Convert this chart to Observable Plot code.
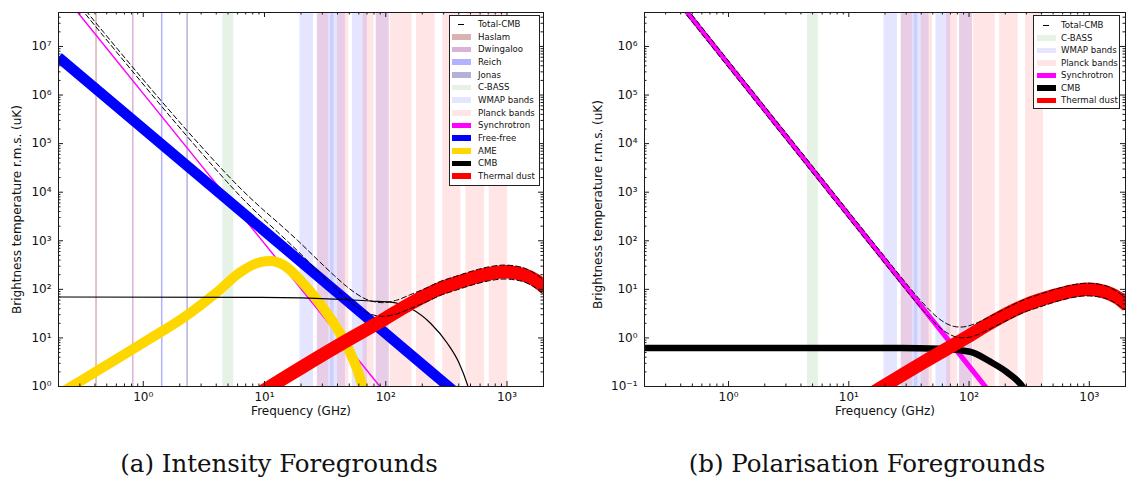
<!DOCTYPE html>
<html>
<head>
<meta charset="utf-8">
<script src="https://cdn.jsdelivr.net/npm/d3@7"></script>
<script src="https://cdn.jsdelivr.net/npm/@observablehq/plot@0.6"></script>
<style>
  html, body { margin: 0; padding: 0; background: #fff; }
  #wrap { position: relative; width: 1129px; height: 480px; overflow: hidden; font-family: "DejaVu Sans", sans-serif; }
  .panel { position: absolute; top: 0; }
  .legend { position: absolute; box-sizing: border-box; border: 1px solid #222; background: #fff; }
  .lrow { position: absolute; left: 0; right: 0; height: 12px; }
  .sw { position: absolute; top: 3.5px; height: 5.5px; }
  .dash { position: absolute; top: 6px; height: 1px; background: #000; }
  .lt { position: absolute; top: 0; line-height: 12px; font-size: 8.6px; color: #111; white-space: nowrap; }
  .caption { position: absolute; top: 449px; font-family: "DejaVu Serif", serif; font-size: 24.5px; color: #111; white-space: nowrap; transform: translateX(-50%); }
</style>
</head>
<body>
<div id="wrap"></div>
<script>
// ---------- axes ----------
const freqMajor = [1, 10, 100, 1000];
const freqMinor = [0.2,0.3,0.4,0.5,0.6,0.7,0.8,0.9,2,3,4,5,6,7,8,9,20,30,40,50,60,70,80,90,200,300,400,500,600,700,800,900,2000];
const intensityMajor = [1,10,100,1e3,1e4,1e5,1e6,1e7];
const polMajor = [0.1,1,10,100,1e3,1e4,1e5,1e6];

// ---------- bands (GHz) ----------
const surveyNames = ["Haslam","Dwingaloo","Reich","Jonas"];
const surveyFreqs = [0.408, 0.82, 1.42, 2.3];
const cbassBand = [[4.53, 5.58]];
const wmapBands = [[19.6,25.4],[27.3,37.5],[35.0,46.5],[53.0,70.5],[83.4,107]];
const planckBands = [[27.3,34.0],[40.0,49.5],[65.0,80.0],[83.4,107],[109,165],[179.5,256],[295,416],[459,655],[713,1011]];
const planckPolBands = [[27.3,34.0],[40.0,49.5],[65.0,80.0],[83.4,107],[109,165],[179.5,256],[295,416]];

// ---------- intensity foregrounds [GHz, uK] ----------
const syncI = [[0.2,1.55e8],[1,1.07e6],[10,873],[100,0.71]];
const freefreeI = [[0.2,6.0e6],[1,2.02e5],[10,1580],[100,12.3],[1000,0.096]];
const ameI = [[0.198,0.68],[0.259,1.02],[1.14,9.7],[2.15,26.2],[4.06,88],[6.33,226],[9.26,364],[11.2,381],[14.5,311],[19.8,153],[27.3,59.4],[37.4,19.8],[48.3,6.53],[58.4,2.17],[64.3,0.99],[67.1,0.67]];
const cmbI = [[0.19,69.5],[9.45,68.5],[42.5,62.4],[75.2,57.5],[110,54.8],[161,40.2],[235,19.8],[323,7.67],[404,2.98],[473,1.07],[501,0.67]];
const dustI = [[7.56,0.55],[11.2,1.0],[19.8,2.39],[42.5,7.43],[91,22],[161,51.5],[285,105],[504,168],[738,214],[983,229],[1304,208],[1729,153],[2079,105]];
const totalFreqI = [0.189,0.2835,0.4725,0.945,1.89,2.835,4.725,6.615,9.45,13.2,18.9,28.35,37.8,47.25,56.7,66.15,75.6,94.5,122.9,160.7,207.9,283.5,378,519.8,708.8,945,1323,2079];
const totalLoI = [2.661e8,7.67e7,1.609e7,1.970e6,2.503e5,7.70e4,1.811e4,7330,3037,1414,607,219.9,108.7,65.0,45.2,35.3,30.6,27.9,31.1,40.5,52.8,75.5,95.6,123.4,149.8,163,147,75.2];
const totalHiI = [3.163e8,9.17e7,1.944e7,2.440e6,3.231e5,1.028e5,2.551e4,10760,4665,2252,997,374.2,190,116.3,82.6,65.5,57.5,53.2,59.8,78.3,102.4,146.5,185.4,239.3,290.5,316,285,145.9];

// ---------- polarisation foregrounds [GHz, uK] ----------
const syncP = [[0.2,6.38e7],[1,4.30e5],[10,336],[100,0.262],[300,0.00865]];
const cmbP = [[0.19,0.62],[26.6,0.62],[57.3,0.60],[102,0.52],[150,0.324],[205,0.20],[265,0.116],[292,0.085]];
const dustP = [[11.2,0.0437],[19.8,0.104],[42.5,0.324],[91,0.962],[161,2.25],[285,4.57],[504,7.35],[738,9.33],[983,10.0],[1304,9.08],[1729,6.68],[2079,4.57]];
const totalFreqP = [0.19,0.477,0.953,1.906,4.77,9.53,19.1,28.6,38.1,47.7,57.2,66.7,76.2,85.8,95.3,114.4,143,190.6,286,381,524,715,953,1334,2097];
const totalLoP = [6.31e7,3.66e6,4.25e5,4.93e4,2860,332,38.6,11.1,4.68,2.51,1.63,1.239,1.064,1.006,1.013,1.135,1.457,2.07,3.37,4.28,5.54,6.74,7.34,6.62,3.39];
const totalHiP = [8.71e7,5.05e6,5.86e5,6.80e4,3950,458,53.3,15.4,6.55,3.59,2.41,1.91,1.71,1.673,1.729,2.0,2.62,3.76,6.12,7.80,10.09,12.28,13.37,12.05,6.16];

// ---------- legend entries ----------
const legendI = ["Total-CMB","Haslam","Dwingaloo","Reich","Jonas","C-BASS","WMAP bands","Planck bands","Synchrotron","Free-free","AME","CMB","Thermal dust"];
const legendP = ["Total-CMB","C-BASS","WMAP bands","Planck bands","Synchrotron","CMB","Thermal dust"];

// ---------- styles ----------
const colors = {
  "Haslam": "#d9b2b2", "Dwingaloo": "#d9b2d9", "Reich": "#b2b2ff", "Jonas": "#b2b2d9",
  "C-BASS": "#e5f2e5", "WMAP bands": "#e5e5ff", "Planck bands": "#ffe5e5",
  "Synchrotron": "#ff00ff", "Free-free": "#0000ff", "AME": "#ffd700", "CMB": "#000000", "Thermal dust": "#ff0000"
};
const SUP = {"-":"⁻","0":"⁰","1":"¹","2":"²","3":"³","4":"⁴","5":"⁵","6":"⁶","7":"⁷","8":"⁸","9":"⁹"};
const fmtPow = v => "10" + String(Math.round(Math.log10(v))).split("").map(c => SUP[c]).join("");
const fx = d => d[0], fy = d => d[1];

function curve(data, stroke, strokeWidth) {
  return Plot.line(data, {x: fx, y: fy, stroke, strokeWidth, curve: "monotone-x", clip: true, strokeLinejoin: "round", strokeLinecap: "butt"});
}
function totals(freqs, lo, hi) {
  const o = {stroke: "#000", strokeWidth: 1, strokeDasharray: "5,3", curve: "monotone-x", clip: true};
  return [
    Plot.line(freqs, {...o, x: d => d, y: (d, i) => lo[i]}),
    Plot.line(freqs, {...o, x: d => d, y: (d, i) => hi[i]})
  ];
}
function band(data, fill) {
  return Plot.rect(data, {x1: fx, x2: fy, fill, fillOpacity: 0.1});
}

function panel(o) {
  const fw = o.width - o.ml - o.mr, fh = o.height - o.mt - o.mb;
  const k = "#1a1a1a";
  const yMinor = [];
  for (const m of o.yMajor) for (let j = 2; j <= 9; j++) { const v = m * j; if (v <= o.yDomain[1]) yMinor.push(v); }
  return Plot.plot({
    width: o.width, height: o.height,
    marginLeft: o.ml, marginRight: o.mr, marginTop: o.mt, marginBottom: o.mb,
    x: {type: "log", domain: o.xDomain},
    y: {type: "log", domain: o.yDomain},
    style: {fontFamily: "DejaVu Sans", fontSize: "12px", background: "transparent", color: "#111"},
    marks: [
      ...o.marks,
      Plot.frame({stroke: k, strokeWidth: 1}),
      Plot.tickX(freqMajor, {x: d => d, insetTop: fh - 5, stroke: k}),
      Plot.tickX(freqMajor, {x: d => d, insetBottom: fh - 5, stroke: k}),
      Plot.tickX(freqMinor, {x: d => d, insetTop: fh - 2.5, stroke: k}),
      Plot.tickX(freqMinor, {x: d => d, insetBottom: fh - 2.5, stroke: k}),
      Plot.tickY(o.yMajor, {y: d => d, insetRight: fw - 5, stroke: k}),
      Plot.tickY(o.yMajor, {y: d => d, insetLeft: fw - 5, stroke: k}),
      Plot.tickY(yMinor, {y: d => d, insetRight: fw - 2.5, stroke: k}),
      Plot.tickY(yMinor, {y: d => d, insetLeft: fw - 2.5, stroke: k}),
      Plot.axisX(freqMajor, {anchor: "bottom", tickSize: 0, tickPadding: 6, tickFormat: fmtPow, fontSize: 12, label: null}),
      Plot.axisY(o.yMajor, {anchor: "left", tickSize: 0, tickPadding: 7, tickFormat: fmtPow, fontSize: 12, label: null}),
      Plot.text(["Frequency (GHz)"], {text: d => d, frameAnchor: "bottom", dy: 28, fontSize: 12, textAnchor: "middle"}),
      Plot.text(["Brightness temperature r.m.s. (uK)"], {text: d => d, frameAnchor: "left", dx: o.titleDx, dy: o.titleDy, rotate: -90, fontSize: 12, textAnchor: "middle", lineAnchor: "middle"})
    ]
  });
}

const wrap = document.getElementById("wrap");

const left = panel({
  width: 580, height: 430, ml: 58, mr: 37, mt: 12, mb: 44,
  xDomain: [0.2, 2000], yDomain: [1, 5e7], yMajor: intensityMajor, titleDx: -41, titleDy: 10,
  marks: [
    ...surveyFreqs.map((f, i) => Plot.ruleX([f], {x: d => d, stroke: colors[surveyNames[i]], strokeWidth: 1.5})),
    band(cbassBand, "green"),
    band(wmapBands, "blue"),
    band(planckBands, "red"),
    curve(syncI, colors["Synchrotron"], 1.5),
    curve(freefreeI, colors["Free-free"], 10.5),
    curve(ameI, colors["AME"], 10),
    curve(cmbI, colors["CMB"], 1.2),
    curve(dustI, colors["Thermal dust"], 13.5),
    ...totals(totalFreqI, totalLoI, totalHiI)
  ]
});
left.classList.add("panel");
left.style.left = "0px";
wrap.appendChild(left);

const right = panel({
  width: 549, height: 430, ml: 64, mr: 4, mt: 12, mb: 44,
  xDomain: [0.2, 2000], yDomain: [0.1, 5e6], yMajor: polMajor, titleDx: -46, titleDy: 5,
  marks: [
    band(cbassBand, "green"),
    band(wmapBands, "blue"),
    band(planckPolBands, "red"),
    curve(syncP, colors["Synchrotron"], 5),
    curve(cmbP, colors["CMB"], 6.5),
    curve(dustP, colors["Thermal dust"], 13.5),
    ...totals(totalFreqP, totalLoP, totalHiP)
  ]
});
right.classList.add("panel");
right.style.left = "580px";
wrap.appendChild(right);

// ---------- legends ----------
function legend(entries, box) {
  const div = document.createElement("div");
  div.className = "legend";
  Object.assign(div.style, {left: box.x + "px", top: box.y + "px", width: box.w + "px", height: box.h + "px"});
  entries.forEach((name, i) => {
    const row = document.createElement("div");
    row.className = "lrow";
    row.style.top = (box.first + i * box.step - 6) + "px";
    if (name === "Total-CMB") {
      const d = document.createElement("div");
      d.className = "dash";
      Object.assign(d.style, {left: (box.sw + 6) + "px", width: "6px"});
      row.appendChild(d);
    } else {
      const s = document.createElement("div");
      s.className = "sw";
      Object.assign(s.style, {left: box.sw + "px", width: "19px", background: colors[name]});
      row.appendChild(s);
    }
    const t = document.createElement("div");
    t.className = "lt";
    t.style.left = box.tx + "px";
    t.textContent = name;
    row.appendChild(t);
    div.appendChild(row);
  });
  wrap.appendChild(div);
}
legend(legendI, {x: 449, y: 15, w: 91, h: 171, first: 8, step: 12.65, sw: 2, tx: 28});
legend(legendP, {x: 1033, y: 15, w: 87, h: 94, first: 9, step: 12.55, sw: 3, tx: 27});

// ---------- captions ----------
[["(a) Intensity Foregrounds", 279], ["(b) Polarisation Foregrounds", 867]].forEach(([txt, cx]) => {
  const c = document.createElement("div");
  c.className = "caption";
  c.style.left = cx + "px";
  c.textContent = txt;
  wrap.appendChild(c);
});
</script>
</body>
</html>
